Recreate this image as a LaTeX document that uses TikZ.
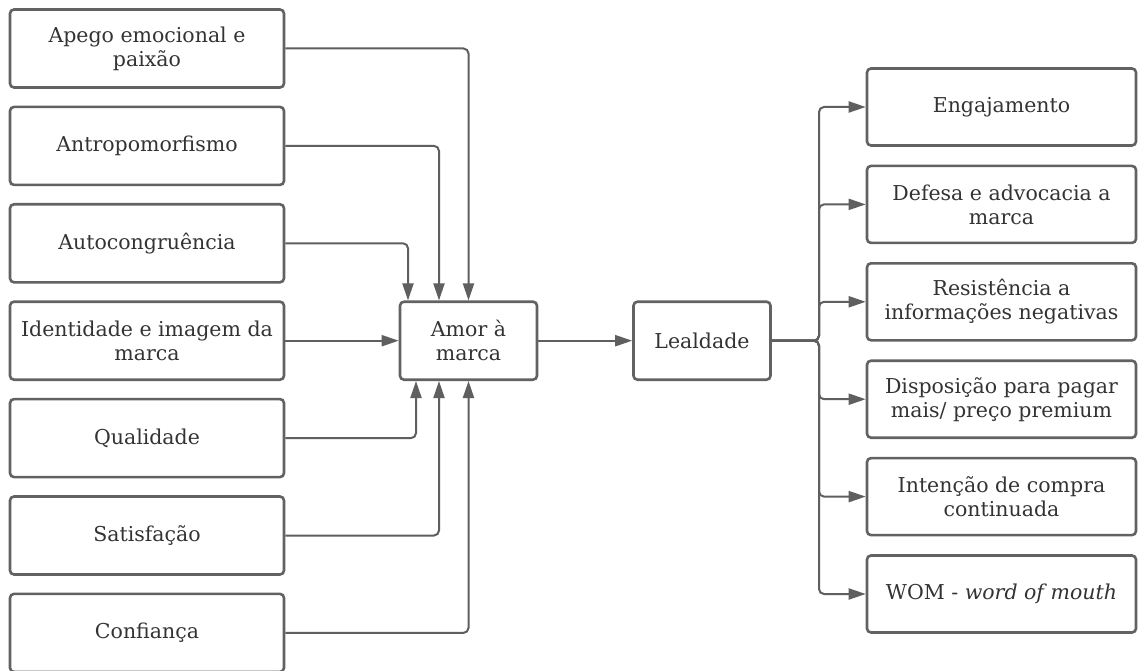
\documentclass[tikz,border=0pt]{standalone}
\usepackage{fontspec}
\setmainfont{DejaVu Serif}
\usetikzlibrary{arrows.meta,calc}
\definecolor{edge}{HTML}{5F5F5F}
\definecolor{frame}{HTML}{626262}
\definecolor{ink}{HTML}{333333}
\tikzset{
  x=1pt,y=-1pt,
  box/.style={draw=frame,line width=2.6pt,rounded corners=4pt,fill=white,
    text=ink,align=center,inner sep=0pt,font=\fontsize{20.5}{24}\selectfont},
  srcbox/.style={box,minimum width=274pt,minimum height=78pt},
  midbox/.style={box,minimum width=137pt,minimum height=78pt},
  outbox/.style={box,minimum width=269pt,minimum height=77pt},
  conn/.style={draw=edge,line width=2pt,rounded corners=5pt,
    -{Triangle[length=17pt,width=11pt]}},
}
\begin{document}
\begin{tikzpicture}
\useasboundingbox[fill=white] (0,0) rectangle (1138,671);

% antecedents of brand love
\node[srcbox] (s1) at (147,48.5)  {Apego emocional e\\paixão};
\node[srcbox] (s2) at (147,145.9) {Antropomorfismo};
\node[srcbox] (s3) at (147,243.3) {Autocongruência};
\node[srcbox] (s4) at (147,340.7) {Identidade e imagem da\\marca};
\node[srcbox] (s5) at (147,438.1) {Qualidade};
\node[srcbox] (s6) at (147,535.5) {Satisfação};
\node[srcbox] (s7) at (147,632.9) {Confiança};

% core constructs
\node[midbox] (amor) at (468.5,340.7) {Amor à\\marca};
\node[midbox] (leal) at (702,340.7) {Lealdade};

% outcomes of loyalty
\node[outbox] (o1) at (1001.5,107)   {Engajamento};
\node[outbox] (o2) at (1001.5,204.4) {Defesa e advocacia a\\marca};
\node[outbox] (o3) at (1001.5,301.8) {Resistência a\\informações negativas};
\node[outbox] (o4) at (1001.5,399.2) {Disposição para pagar\\mais/ preço premium};
\node[outbox] (o5) at (1001.5,496.6) {Intenção de compra\\continuada};
\node[outbox] (o6) at (1001.5,594)   {WOM - \textit{word of mouth}};

% connectors into brand love
\draw[conn] (s1.east) -| (amor.north);
\draw[conn] (s2.east) -| ($(amor.north)+(-29.5,0)$);
\draw[conn] (s3.east) -| ($(amor.north)+(-60.5,0)$);
\draw[conn] (s4.east) -- (amor.west);
\draw[conn] (s5.east) -| ($(amor.south)+(-52.5,0)$);
\draw[conn] (s6.east) -| ($(amor.south)+(-29.5,0)$);
\draw[conn] (s7.east) -| (amor.south);

\draw[conn] (amor.east) -- (leal.west);

% fan-out from loyalty
\coordinate (fork) at (819,340.7);
\foreach \o in {o1,o2,o3,o4,o5,o6}
  \draw[conn] (leal.east) -- (fork) |- (\o.west);
\end{tikzpicture}
\end{document}
